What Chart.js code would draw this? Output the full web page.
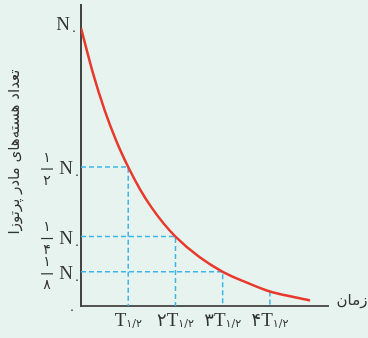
<!DOCTYPE html>
<html>
<head>
<meta charset="utf-8">
<script src="https://cdn.jsdelivr.net/npm/chart.js@4"></script>
<style>
  body { margin: 0; background: #e6f3ef; }
  #wrap { width: 368px; height: 338px; }
</style>
</head>
<body>
<div id="wrap"><canvas id="chart"></canvas></div>
<script>
const ctx = document.getElementById("chart");

// decay curve (time in half-lives, N as fraction of N0)
const time = [0, 0.25, 0.5, 0.75, 1, 1.25, 1.5, 1.75, 2, 2.5, 3, 3.5, 4, 4.4, 4.85];
const nuclei = [1, 0.84, 0.705, 0.593, 0.5, 0.42, 0.353, 0.297, 0.25, 0.177, 0.123, 0.085, 0.052, 0.036, 0.02];

// dashed guides: half-life marks and the level of the curve there
const halfLives = [1, 2, 3, 4];
const guideLevels = [0.5, 0.25, 0.123, 0.052];

// tick labels
const yTickValues = [1, 0.5, 0.25, 0.123];
const yTickDenoms = ["", "۲", "۴", "۸"];
const xTickValues = [1, 2, 3, 4];
const xTickPrefix = ["", "۲", "۳", "۴"];

const yTitle = "تعداد هسته‌های مادر پرتوزا";
const xTitle = "زمان";

const curveColor = "#e8392c";
const guideColor = "#3cb6e8";
const textColor = "#333333";

var datasets = [];
datasets.push({
  data: time.map((t, i) => ({ x: t, y: nuclei[i] })),
  borderColor: curveColor,
  borderWidth: 2.5,
  pointRadius: 0,
  cubicInterpolationMode: "monotone",
});
for (let i = 0; i < halfLives.length; i++) {
  var pts = [];
  if (yTickValues.includes(guideLevels[i])) {
    pts.push({ x: 0, y: guideLevels[i] });
  }
  pts.push({ x: halfLives[i], y: guideLevels[i] });
  pts.push({ x: halfLives[i], y: 0 });
  datasets.push({
    data: pts,
    borderColor: guideColor,
    borderWidth: 1.5,
    borderDash: [5, 3],
    pointRadius: 0,
    tension: 0,
  });
}

const labelsPlugin = {
  id: "labels",
  afterDraw(chart) {
    const c = chart.ctx;
    const xs = chart.scales.x;
    const ys = chart.scales.y;
    c.save();
    c.fillStyle = textColor;
    c.strokeStyle = textColor;

    // y tick labels: fraction + N0
    for (let i = 0; i < yTickValues.length; i++) {
      const y = ys.getPixelForValue(yTickValues[i]);
      const yc = i == 0 ? y - 3 : y + 2;
      const nRight = i == 0 ? 70 : 73;
      c.font = "19px 'Liberation Serif'";
      c.textAlign = "right";
      c.textBaseline = "middle";
      c.fillText("N", nRight, yc);
      c.font = "13px 'DejaVu Sans'";
      c.textAlign = "center";
      c.fillText("۰", nRight + 4, yc + 7);
      if (yTickDenoms[i]) {
        const fx = 47;
        c.font = "14px 'DejaVu Sans'";
        c.fillText("۱", fx, yc - 11);
        c.fillText(yTickDenoms[i], fx, yc + 12);
        c.lineWidth = 1.2;
        c.beginPath();
        c.moveTo(fx - 6, yc);
        c.lineTo(fx + 6, yc);
        c.stroke();
      }
    }

    // origin
    c.font = "13px 'DejaVu Sans'";
    c.textAlign = "center";
    c.textBaseline = "middle";
    c.fillText("۰", 72, 311);

    // x tick labels: nT1/2
    for (let i = 0; i < xTickValues.length; i++) {
      const x = xs.getPixelForValue(xTickValues[i]);
      const base = 326;
      c.font = "18px 'DejaVu Sans'";
      const wp = xTickPrefix[i] ? c.measureText(xTickPrefix[i]).width : 0;
      c.font = "19px 'Liberation Serif'";
      const wt = c.measureText("T").width;
      c.font = "11px 'DejaVu Sans'";
      const ws = c.measureText("۱/۲").width;
      let left = x - (wp + wt + ws) / 2;
      c.textAlign = "left";
      c.textBaseline = "alphabetic";
      if (xTickPrefix[i]) {
        c.font = "18px 'DejaVu Sans'";
        c.fillText(xTickPrefix[i], left, base);
        left += wp;
      }
      c.font = "19px 'Liberation Serif'";
      c.fillText("T", left, base);
      left += wt;
      c.font = "11px 'DejaVu Sans'";
      c.fillText("۱/۲", left, base + 1);
    }

    // axis titles
    c.direction = "rtl";
    c.font = "15px 'DejaVu Sans'";
    c.textAlign = "center";
    c.textBaseline = "middle";
    c.fillText(xTitle, 352, 301);

    c.translate(15, 152);
    c.rotate(-Math.PI / 2);
    c.font = "15px 'DejaVu Sans'";
    c.fillText(yTitle, 0, 0);
    c.restore();
  },
};

new Chart(ctx, {
  type: "line",
  data: { datasets: datasets },
  plugins: [labelsPlugin],
  options: {
    responsive: true,
    maintainAspectRatio: false,
    animation: false,
    layout: { padding: { left: 81, right: 40, top: 5, bottom: 32 } },
    plugins: { legend: { display: false }, tooltip: { enabled: false } },
    scales: {
      x: {
        type: "linear",
        min: 0,
        max: 5.23,
        ticks: { display: false },
        grid: { display: false, drawTicks: false },
        border: { display: true, color: "#555555", width: 2 },
      },
      y: {
        min: 0,
        max: 1.083,
        ticks: { display: false },
        grid: { display: false, drawTicks: false },
        border: { display: true, color: "#444444", width: 2 },
      },
    },
  },
});
</script>
</body>
</html>
